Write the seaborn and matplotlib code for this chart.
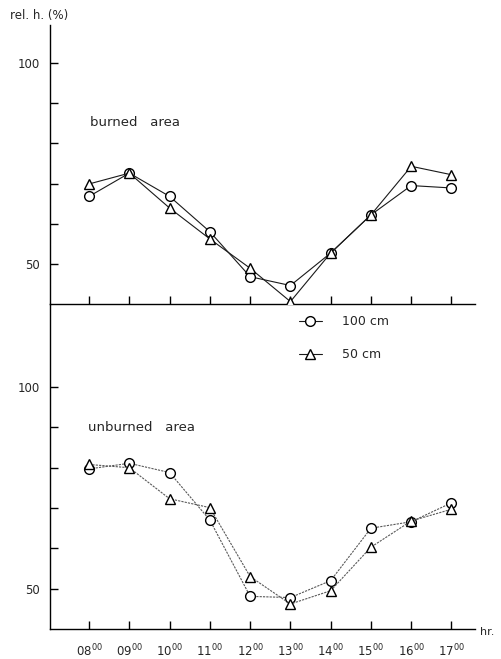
import numpy as np
import pandas as pd
import matplotlib
matplotlib.use("Agg")
import matplotlib.pyplot as plt
import seaborn as sns

hours = ["08", "09", "10", "11", "12", "13", "14", "15", "16", "17"]
burned_100 = [66.8, 72.6, 66.8, 58.0, 46.8, 44.6, 52.7, 62.2, 69.5, 68.9]
burned_50 = [69.9, 72.6, 63.9, 56.2, 48.9, 40.6, 52.7, 62.2, 74.3, 72.2]
unburned_100 = [79.7, 81.1, 78.8, 67.0, 48.1, 47.8, 52.0, 65.0, 66.6, 71.3]
unburned_50 = [80.8, 80.0, 72.3, 70.1, 53.0, 46.2, 49.5, 60.3, 66.8, 69.7]

sns.set_style("white")
plt.rcParams["font.family"] = ["DejaVu Sans"]

x = np.arange(len(hours))
fig = plt.figure(figsize=(5.01, 6.59), dpi=100)
ax_top = fig.add_axes([0.0998, 0.5387, 0.848, 0.4234])
ax_bot = fig.add_axes([0.0998, 0.0455, 0.848, 0.4932])


def draw(ax, s100, s50, ls, col):
    df = pd.DataFrame({"x": np.concatenate([x, x]),
                       "rh": s100 + s50,
                       "depth": ["100 cm"] * len(x) + ["50 cm"] * len(x)})
    for name, mk in [("100 cm", "o"), ("50 cm", "^")]:
        sns.lineplot(data=df[df["depth"] == name], x="x", y="rh", ax=ax,
                     color=col, linestyle=ls, linewidth=0.8, marker=mk,
                     markersize=7, markerfacecolor="white",
                     markeredgecolor="black", markeredgewidth=1.0,
                     label=name, zorder=3)


draw(ax_top, burned_100, burned_50, "-", "0.1")
draw(ax_bot, unburned_100, unburned_50, (0, (2, 1)), "0.35")

for ax in (ax_top, ax_bot):
    ax.set_xlim(-0.97, 9.58)
    ax.set_xticks(x)
    ax.set_yticks([50, 60, 70, 80, 90, 100])
    ax.set_yticklabels(["50", "", "", "", "", "100"])
    ax.set_xlabel("")
    ax.set_ylabel("")
    for s in ("top", "right"):
        ax.spines[s].set_visible(False)
    for s in ("left", "bottom"):
        ax.spines[s].set_color("black")
        ax.spines[s].set_linewidth(1.0)
    ax.tick_params(axis="both", direction="in", length=6, width=1,
                   color="black", labelsize=8.5, left=True, bottom=True)
    ax.tick_params(axis="y", pad=7)
    ax.patch.set_alpha(0)

ax_top.set_ylim(40, 109.5)
ax_bot.set_ylim(40, 120.6)
ax_top.set_xticklabels([])
ax_bot.set_xticklabels([h + "$^{00}$" for h in hours])
ax_bot.tick_params(axis="x", pad=10)
ax_top.get_legend().remove()

handles, labels = ax_bot.get_legend_handles_labels()
leg = ax_bot.legend(handles, labels, loc="upper left",
                    bbox_to_anchor=(0.56, 1.0), frameon=False, fontsize=9,
                    labelspacing=1.6, handlelength=1.8, handletextpad=1.6)
for ln in leg.get_lines():
    ln.set_linestyle("-")
    ln.set_color("0.1")

ax_top.text(0.095, 0.65, "burned   area", transform=ax_top.transAxes,
            fontsize=9.5, va="center")
ax_bot.text(0.09, 0.62, "unburned   area", transform=ax_bot.transAxes,
            fontsize=9.5, va="center")
fig.text(0.02, 1 - 15 / 659, "rel. h. (%)", fontsize=8.5, va="center")
fig.text(0.958, 1 - 632 / 659, "hr.", fontsize=8, va="center")

fig.savefig("out.png", dpi=100)
